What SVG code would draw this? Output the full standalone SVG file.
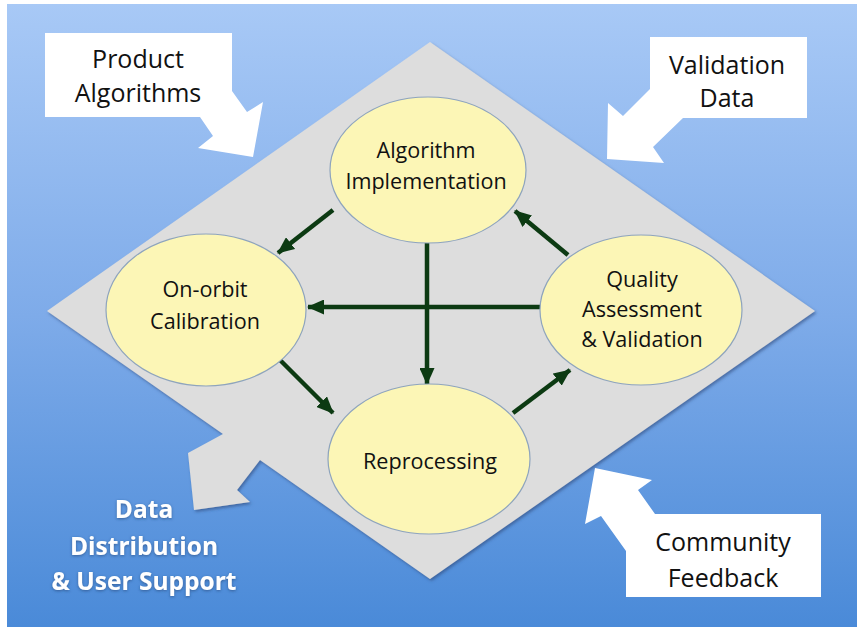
<svg xmlns="http://www.w3.org/2000/svg" width="857" height="627" viewBox="0 0 857 627">
<defs>
<linearGradient id="bg" x1="0" y1="0" x2="0" y2="1">
<stop offset="0" stop-color="#a8c9f6"/>
<stop offset="0.5" stop-color="#7eabe9"/>
<stop offset="1" stop-color="#4a8ad8"/>
</linearGradient>
<filter id="sh" x="-5%" y="-5%" width="110%" height="110%">
<feDropShadow dx="1.5" dy="2" stdDeviation="1.5" flood-color="#2a4a7a" flood-opacity="0.6"/>
</filter>
<filter id="tsh" x="-10%" y="-20%" width="120%" height="140%">
<feDropShadow dx="0" dy="1" stdDeviation="1.5" flood-color="#1a3a6a" flood-opacity="0.6"/>
</filter>
<marker id="ah" markerUnits="userSpaceOnUse" markerWidth="17" markerHeight="15" viewBox="0 0 17 15" refX="16" refY="7.5" orient="auto">
<path d="M0,0 L17,7.5 L0,15 Z" fill="#0c3a12"/>
</marker>
<style>
.call{fill:#ffffff}
.ct{font-family:"Open Sans","Liberation Sans",sans-serif;font-size:25px;fill:#111;text-anchor:middle}
.node{fill:#fcf6b6;stroke:#8ea4bd;stroke-width:1.2}
.nt{font-family:"Open Sans","Liberation Sans",sans-serif;font-size:21.6px;fill:#111;text-anchor:middle}
.con{stroke:#0c3a12;stroke-width:4.5;fill:none;marker-end:url(#ah)}
.dt{font-family:"Open Sans","Liberation Sans",sans-serif;font-size:24.5px;font-weight:bold;fill:#ffffff;text-anchor:middle}
</style>
</defs>
<rect x="7" y="4" width="850" height="623" fill="url(#bg)"/>

<g id="diamond">
<path d="M430,42 L815,311 L430,579 L260,460 L237,490 L250,502 L194,510 L188,453 L223,434 L47,311 Z" fill="#dddddd" filter="url(#sh)"/>
</g>

<g id="product-algorithms">
<path class="call" d="M45,33 H232 V91 L247,112 L263,102 L253,157 L198,148 L213,136 L200,117 H45 Z"/>
<text class="ct" x="138" y="68">Product</text>
<text class="ct" x="138" y="102">Algorithms</text>
</g>

<g id="validation-data">
<path class="call" d="M650,37 H807 V118 H683 L653,147 L664,163 L607,159 L608,103 L623,116 L650,89 Z"/>
<text class="ct" x="727" y="74">Validation</text>
<text class="ct" x="727" y="107">Data</text>
</g>

<g id="community-feedback">
<path class="call" d="M655,514 H821 V597 H626 V551 L601,516 L585,524 L595,468 L652,480 L638,490 Z"/>
<text class="ct" x="723" y="551">Community</text>
<text class="ct" x="723" y="587">Feedback</text>
</g>

<g id="data-distribution" filter="url(#tsh)">
<text class="dt" x="144" y="518">Data</text>
<text class="dt" x="144" y="555">Distribution</text>
<text class="dt" x="144" y="590">&amp; User Support</text>
</g>

<g id="connectors">
<line class="con" x1="333" y1="210" x2="278" y2="253"/>
<line class="con" x1="427" y1="243" x2="427" y2="384"/>
<line class="con" x1="540" y1="307" x2="308" y2="307"/>
<line class="con" x1="278" y1="358" x2="333" y2="413"/>
<line class="con" x1="513" y1="413" x2="570" y2="370"/>
<line class="con" x1="568" y1="255" x2="515" y2="211"/>
</g>

<g id="algorithm-implementation">
<ellipse class="node" cx="428" cy="170" rx="98" ry="73"/>
<text class="nt" x="426" y="158">Algorithm</text>
<text class="nt" x="426" y="189">Implementation</text>
</g>

<g id="on-orbit-calibration">
<ellipse class="node" cx="206" cy="310" rx="100" ry="76"/>
<text class="nt" x="205" y="297">On-orbit</text>
<text class="nt" x="205" y="329">Calibration</text>
</g>

<g id="quality-assessment">
<ellipse class="node" cx="641" cy="310" rx="101" ry="75"/>
<text class="nt" x="642" y="287">Quality</text>
<text class="nt" x="642" y="317">Assessment</text>
<text class="nt" x="642" y="347">&amp; Validation</text>
</g>

<g id="reprocessing">
<ellipse class="node" cx="429" cy="459" rx="101" ry="75"/>
<text class="nt" x="430" y="469">Reprocessing</text>
</g>
</svg>
